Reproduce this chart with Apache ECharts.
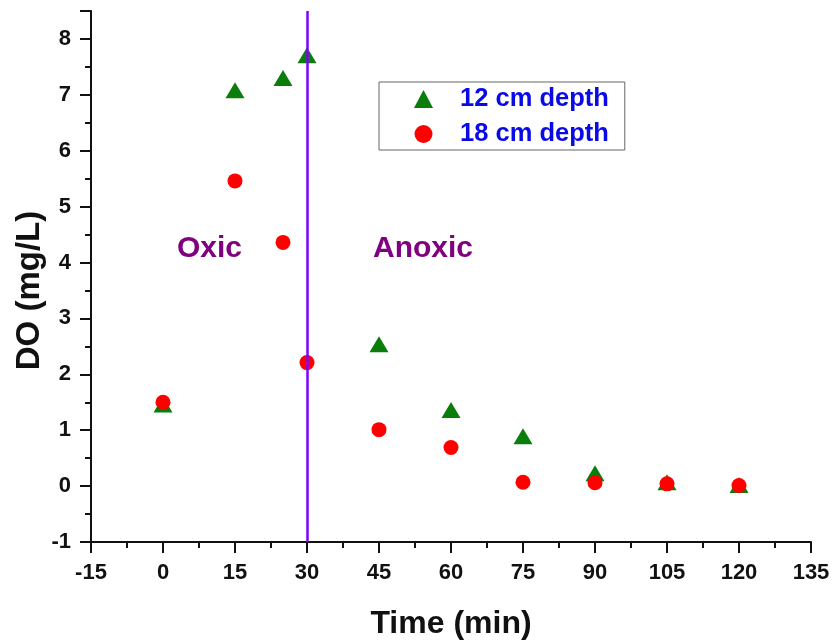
<!DOCTYPE html>
<html>
<head>
<meta charset="utf-8">
<script src="https://cdn.jsdelivr.net/npm/echarts@6/dist/echarts.min.js"></script>
<style>html,body{margin:0;padding:0;background:#fff;}#c{width:839px;height:643px;}</style>
</head>
<body>
<div id="c"></div>
<script>
const timeMin = [0, 15, 25, 30, 45, 60, 75, 90, 105, 120];
const do12cm = [1.46, 7.08, 7.3, 7.71, 2.54, 1.36, 0.89, 0.23, 0.07, 0.02];
const do18cm = [1.5, 5.46, 4.36, 2.21, 1.01, 0.69, 0.07, 0.06, 0.04, 0.01];
const seriesNames = ['12 cm depth', '18 cm depth'];
const boundaryTime = 30;
const regionLabels = ['Oxic', 'Anoxic'];

const FONT = '"Liberation Sans", Arial, sans-serif';
const chart = echarts.init(document.getElementById('c'));
const pts = (ys) => timeMin.map((t, i) => [t, ys[i]]);

chart.setOption({
  animation: false,
  backgroundColor: '#fff',
  grid: { left: 91, right: 28, top: 11, bottom: 101, containLabel: false, outerBoundsMode: 'none' },
  legend: {
    left: 379, top: 82,
    orient: 'vertical',
    borderColor: '#666', borderWidth: 1,
    padding: [4, 16, 3, 35],
    itemWidth: 19, itemHeight: 18, itemGap: 9,
    textStyle: { color: '#0a0ae6', fontFamily: FONT, fontWeight: 'bold', fontSize: 25.5, padding: [0, 0, 0, 22] },
    data: [
      { name: seriesNames[0], icon: 'triangle' },
      { name: seriesNames[1], icon: 'circle' }
    ]
  },
  xAxis: {
    type: 'value', min: -15, max: 135, interval: 15,
    name: 'Time (min)', nameLocation: 'middle', nameGap: 66,
    nameTextStyle: { fontFamily: FONT, fontWeight: 'bold', fontSize: 32, color: '#111' },
    axisLine: { show: true, onZero: false, lineStyle: { color: '#111', width: 2 } },
    axisTick: { show: true, inside: false, length: 11, lineStyle: { color: '#111', width: 2 } },
    minorTick: { show: true, splitNumber: 2, length: 6, lineStyle: { color: '#111', width: 2 } },
    axisLabel: { fontFamily: FONT, fontWeight: 'bold', fontSize: 22, color: '#111', margin: 20 },
    splitLine: { show: false }
  },
  yAxis: {
    type: 'value', min: -1, max: 8.5, interval: 1,
    name: 'DO (mg/L)', nameLocation: 'middle', nameGap: 45, nameMoveOverlap: false,
    nameTextStyle: { fontFamily: FONT, fontWeight: 'bold', fontSize: 33, color: '#111', padding: [0, 28, 0, 0] },
    axisLine: { show: true, onZero: false, lineStyle: { color: '#111', width: 2 } },
    axisTick: { show: true, inside: false, length: 11, lineStyle: { color: '#111', width: 2 } },
    minorTick: { show: true, splitNumber: 2, length: 6, lineStyle: { color: '#111', width: 2 } },
    axisLabel: { fontFamily: FONT, fontWeight: 'bold', fontSize: 22, color: '#111', margin: 20,
      formatter: v => (Number.isInteger(v) ? String(v) : '') },
    splitLine: { show: false }
  },
  series: [
    {
      name: seriesNames[0], type: 'scatter', symbol: 'triangle', symbolSize: [19, 16],
      itemStyle: { color: '#0a7d0a', opacity: 1 }, data: pts(do12cm), z: 3,
      markLine: {
        silent: true, symbol: 'none', label: { show: false },
        lineStyle: { color: '#8000ff', width: 2.5, type: 'solid' },
        data: [{ xAxis: boundaryTime }]
      }
    },
    {
      name: seriesNames[1], type: 'scatter', symbol: 'circle', symbolSize: 15,
      itemStyle: { color: '#ff0000', opacity: 1 }, data: pts(do18cm), z: 4
    }
  ],
  graphic: [
    { type: 'text', x: 177, y: 249, style: { text: regionLabels[0], fill: '#800080', font: 'bold 30px ' + FONT, verticalAlign: 'middle' } },
    { type: 'text', x: 373, y: 249, style: { text: regionLabels[1], fill: '#800080', font: 'bold 30px ' + FONT, verticalAlign: 'middle' } }
  ]
});
</script>
</body>
</html>
